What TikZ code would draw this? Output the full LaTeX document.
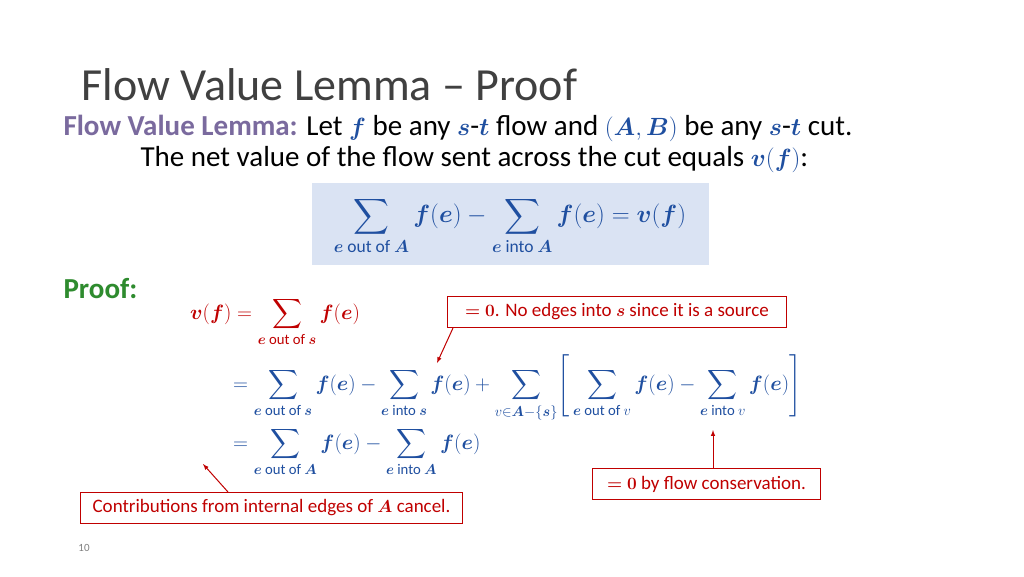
\documentclass[tikz,border=0pt]{standalone}
\usepackage{amsmath}
\usepackage{bm}
\usepackage{fontspec}
\setmainfont{Carlito}
\usetikzlibrary{positioning}
\definecolor{mblue}{HTML}{1F4FA0}
\definecolor{lemmac}{HTML}{7A6A9E}
\definecolor{proofc}{HTML}{2E8B2E}
\definecolor{boxred}{HTML}{C00000}
\definecolor{boxfill}{HTML}{DAE3F3}
\definecolor{titlec}{HTML}{404040}
\newcommand{\mb}[1]{\textcolor{mblue}{\bm{#1}}}
\newcommand{\fe}{\bm{f}(\bm{e})}
\tikzset{
    redbox/.style={draw=boxred, line width=1pt, text=boxred, font=\fontsize{19}{22}\selectfont, inner sep=4pt},
    redarrow/.style={draw=boxred, line width=1pt, ->, >=latex},
    eqn/.style={anchor=west, inner sep=0pt, font=\fontsize{21}{25}\selectfont}
}
\begin{document}
\begin{tikzpicture}[x=1pt,y=-1pt]
    \useasboundingbox[fill=white] (0,0) rectangle (1024,576);

    \node[anchor=west, text=titlec, font=\fontsize{46}{50}\selectfont] (title) at (78,85) {Flow Value Lemma -- Proof};
    \node[anchor=west, font=\fontsize{29}{33}\selectfont] (lemma) at (60,128) {\textcolor{lemmac}{\textbf{Flow Value Lemma:}} Let $\mb{f}$ be any $\mb{s}$-$\mb{t}$ flow and $\textcolor{mblue}{(\bm{A},\bm{B})}$ be any $\mb{s}$-$\mb{t}$ cut.};
    \node[anchor=west, font=\fontsize{29}{33}\selectfont] (netval) at (137,160) {The net value of the flow sent across the cut equals $\textcolor{mblue}{\bm{v}(\bm{f})}$:};

    % statement box
    \fill[boxfill] (312,183) rectangle (709,265);
    \node[eqn, anchor=center, text=mblue, font=\fontsize{25}{29}\selectfont] (stmt) at (510,226) {$\displaystyle\sum_{\bm{e}\text{ out of }\bm{A}}\fe - \sum_{\bm{e}\text{ into }\bm{A}}\fe = \bm{v}(\bm{f})$};

    \node[anchor=west, text=proofc, font=\bfseries\fontsize{29}{33}\selectfont] (proof) at (60,289) {Proof:};

    % proof rows
    \node[eqn, text=boxred] (rowA) at (190,322) {$\displaystyle\bm{v}(\bm{f}) = \sum_{\bm{e}\text{ out of }\bm{s}}\fe$};
    \node[eqn, text=mblue] (rowB) at (233,388) {$\displaystyle= \sum_{\bm{e}\text{ out of }\bm{s}}\fe - \sum_{\bm{e}\text{ into }\bm{s}}\fe + \sum_{v\in\bm{A}-\{\bm{s}\}}\!\left[\,\sum_{\bm{e}\text{ out of }v}\fe - \sum_{\bm{e}\text{ into }v}\fe\right]$};
    \node[eqn, text=mblue] (rowC) at (233,452) {$\displaystyle= \sum_{\bm{e}\text{ out of }\bm{A}}\fe - \sum_{\bm{e}\text{ into }\bm{A}}\fe$};

    % remarks
    \node[redbox, minimum width=339pt, minimum height=31pt, anchor=north west] (noedge) at (447,296) {$\bm{=0}$. No edges into $\bm{s}$ since it is a source};
    \node[redbox, minimum width=228pt, minimum height=31pt, anchor=north west] (conserv) at (592,468) {$\bm{=0}$ by flow conservation.};
    \node[redbox, minimum width=382pt, minimum height=31pt, anchor=north west] (internal) at (80,492) {Contributions from internal edges of $\bm{A}$ cancel.};
    \coordinate (tipB) at (437,363);
    \coordinate (tipV) at (713,430);
    \coordinate (tipC) at (203,464);
    \draw[redarrow] ([xshift=6pt]noedge.south west) -- (tipB);
    \draw[redarrow] (conserv.north -| tipV) -- (tipV);
    \draw[redarrow] (internal.north -| 228,0) -- (tipC);

    \node[text=gray, font=\fontsize{11}{13}\selectfont] (pagenum) at (84,548) {10};
\end{tikzpicture}
\end{document}
